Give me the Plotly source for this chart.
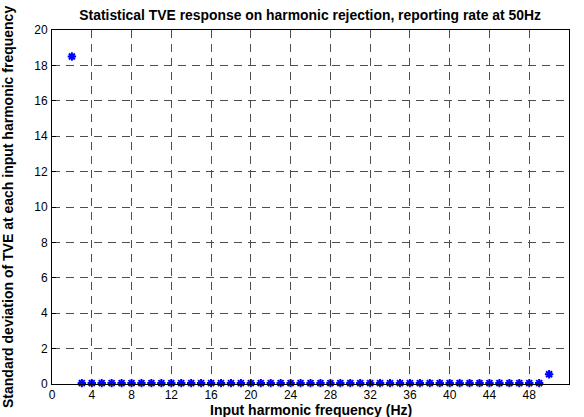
import plotly.graph_objects as go

# harmonic frequencies (Hz) and std deviation of TVE
harmonic_hz = [2, 3, 4, 5, 6, 7, 8, 9, 10, 11, 12, 13, 14, 15, 16, 17, 18, 19,
               20, 21, 22, 23, 24, 25, 26, 27, 28, 29, 30, 31, 32, 33, 34, 35,
               36, 37, 38, 39, 40, 41, 42, 43, 44, 45, 46, 47, 48, 49, 50]
tve_std = [18.5, 0.05, 0.05, 0.05, 0.05, 0.05, 0.05, 0.05, 0.05, 0.05, 0.05,
           0.05, 0.05, 0.05, 0.05, 0.05, 0.05, 0.05, 0.05, 0.05, 0.05, 0.05,
           0.05, 0.05, 0.05, 0.05, 0.05, 0.05, 0.05, 0.05, 0.05, 0.05, 0.05,
           0.05, 0.05, 0.05, 0.05, 0.05, 0.05, 0.05, 0.05, 0.05, 0.05, 0.05,
           0.05, 0.05, 0.05, 0.05, 0.55]

x_ticks = list(range(0, 49, 4))
y_ticks = list(range(0, 21, 2))

FONT = "Liberation Sans, Arial, sans-serif"
LABEL_FONT = {"family": FONT, "size": 14, "color": "black"}

fig = go.Figure()
fig.add_trace(
    go.Scatter(
        x=harmonic_hz,
        y=tve_std,
        mode="markers",
        marker={
            "symbol": "asterisk-open",
            "size": 7,
            "color": "#0000ff",
            "line": {"color": "#0000ff", "width": 2},
        },
        cliponaxis=False,
        showlegend=False,
    )
)

axis_common = {
    "showline": True,
    "linecolor": "black",
    "linewidth": 1,
    "mirror": True,
    "ticks": "inside",
    "ticklen": 4,
    "tickcolor": "black",
    "showgrid": True,
    "gridcolor": "#4d4d4d",
    "gridwidth": 1,
    "griddash": "8px,6px",
    "zeroline": False,
    "automargin": False,
    "tickfont": {"family": FONT, "size": 12, "color": "black"},
}

fig.update_xaxes(range=[0, 52], tickvals=x_ticks, ticklabelstandoff=0, **axis_common)
fig.update_yaxes(range=[0, 20], tickvals=y_ticks, ticklabelstandoff=1, **axis_common)

# axis titles as annotations so they sit where the original puts them
fig.add_annotation(
    text="<b>Input harmonic frequency (Hz)</b>",
    xref="paper", yref="paper", x=0.5, y=0,
    xanchor="center", yanchor="middle", yshift=-26,
    showarrow=False, font=LABEL_FONT,
)
fig.add_annotation(
    text="<b>Standard deviation of TVE at each input harmonic frequency</b>",
    xref="paper", yref="paper", x=0, y=0.5,
    xanchor="center", yanchor="middle", xshift=-44,
    textangle=-90, showarrow=False, font=LABEL_FONT,
)

fig.update_layout(
    width=584,
    height=417,
    title={
        "text": "<b>Statistical TVE response on harmonic rejection, reporting rate at 50Hz</b>",
        "font": {"family": FONT, "size": 13.9, "color": "black"},
        "x": 0.531,
        "xanchor": "center",
        "y": 0.964,
        "yanchor": "middle",
    },
    paper_bgcolor="white",
    plot_bgcolor="white",
    margin={"l": 52, "r": 15, "t": 30, "b": 33},
)

# drop the default page margin so the figure sits at the window's corner
fig.write_html(
    "out.html",
    config={"displayModeBar": False},
    post_script="document.body.style.margin = '0';",
)
